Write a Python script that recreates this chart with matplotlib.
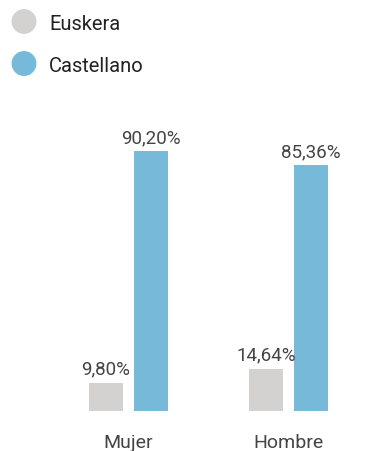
import numpy as np
import matplotlib.pyplot as plt
from matplotlib.patches import Ellipse

plt.rcParams['font.family'] = ['Roboto', 'DejaVu Sans']

categories = ['Mujer', 'Hombre']
euskera = [9.80, 14.64]
castellano = [90.20, 85.36]
value_labels_eus = ['9,80%', '14,64%']
value_labels_cas = ['90,20%', '85,36%']
series_names = ['Euskera', 'Castellano']
colors = ['#d3d2d0', '#77b9d9']

W, H = 374, 451
fig = plt.figure(figsize=(W / 100, H / 100), dpi=100)
ax = fig.add_axes([0, 40 / H, 1, 288 / H])

x = np.arange(len(categories))
width = 0.2125
offset = (width + 0.069) / 2
b1 = ax.bar(x - offset, euskera, width, color=colors[0])
b2 = ax.bar(x + offset, castellano, width, color=colors[1])

for bars, labels in [(b1, value_labels_eus), (b2, value_labels_cas)]:
    for bar, lab in zip(bars, labels):
        ax.annotate(lab, (bar.get_x() + bar.get_width() / 2, bar.get_height()),
                    xytext=(0, 5.8), textcoords='offset points',
                    ha='center', va='baseline', fontsize=13.5, color='#444444')

ax.set_xlim(-128.5 / 160, (W - 128.5) / 160)
ax.set_ylim(0, 100)
ax.axis('off')

for i, cat in enumerate(categories):
    ax.text(x[i], -37 / 2.88, cat, ha='center', va='baseline',
            fontsize=14, color='#444444')

# legend
circle_y = [21.5, 63.5]
text_y = [30, 72]
for name, col, cy, ty in zip(series_names, colors, circle_y, text_y):
    fig.patches.append(Ellipse((24 / W, 1 - cy / H), 23.5 / W, 23.5 / H,
                               transform=fig.transFigure, color=col))
    fig.text(49 / W, 1 - ty / H, name, ha='left', va='baseline',
             fontsize=14.5, color='#222222')

fig.savefig('out.png', dpi=100)
